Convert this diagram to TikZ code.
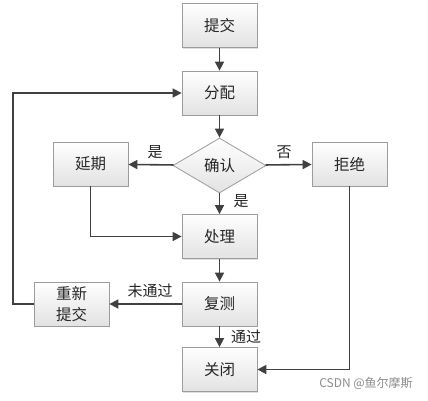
\documentclass[tikz,border=0pt]{standalone}
\usepackage{fontspec}
\newfontfamily\cjk{Noto Sans CJK SC}
\usetikzlibrary{arrows.meta,shapes.geometric,shadows}
\definecolor{boxline}{HTML}{9C9C9C}
\definecolor{boxbot}{HTML}{E2E2E2}
\definecolor{arr}{HTML}{404040}
\begin{document}
\begin{tikzpicture}[x=1pt,y=-1pt,
  box/.style={draw=boxline,line width=0.8pt,top color=white,bottom color=boxbot,
    minimum width=75pt,minimum height=44pt,inner sep=0pt,align=center,
    font=\cjk\fontsize{15.5}{21}\selectfont,text=black!85,
    drop shadow={shadow xshift=1pt,shadow yshift=-1pt,opacity=0.25}},
  dia/.style={diamond,draw=boxline,line width=0.8pt,top color=white,bottom color=boxbot,
    minimum width=93pt,minimum height=55pt,inner sep=0pt,aspect=1.7,
    font=\cjk\fontsize{15.5}{17}\selectfont,text=black!85},
  conn/.style={draw=arr,line width=1.6pt,-{Triangle[length=9pt,width=9pt]}},
  lab/.style={font=\cjk\fontsize{15}{17}\selectfont,text=black!85,inner sep=0pt}]
\useasboundingbox (0,0) rectangle (428,400);
\fill[white] (0,0) rectangle (428,400);
\node[box] (tj) at (219.5,25.5) {提交};
\node[box] (fp) at (219.5,93) {分配};
\node[dia] (qr) at (219.5,165.5) {确认};
\node[box] (yq) at (90.5,164) {延期};
\node[box] (jj) at (349.5,164) {拒绝};
\node[box] (cl) at (219.5,236.5) {处理};
\node[box] (fc) at (219.5,304) {复测};
\node[box] (cx) at (71.5,304) {重新\\提交};
\node[box] (gb) at (219.5,369.5) {关闭};
\coordinate (lt) at (13,93);
\coordinate (lb) at (13,304);
\path[conn] (tj) -- (fp);
\path[conn] (fp) -- (qr);
\path[conn] (qr) -- (yq);
\path[conn] (qr) -- (jj);
\path[conn] (qr) -- (cl);
\path[conn] (cl) -- (fc);
\path[conn] (fc) -- (cx);
\path[conn] (fc) -- (gb);
\path[conn] (yq.south) |- (cl.west);
\path[conn] (jj.south) |- (gb.east);
\path[conn] (cx.west) -- (lb) -- (lt) -- (fp.west);
\node[lab] (l1) at (155,152) {是};
\node[lab] (l2) at (284,152) {否};
\node[lab] (l3) at (241,201) {是};
\node[lab] (l4) at (150,291) {未通过};
\node[lab] (l5) at (246,337) {通过};
\node[font=\cjk\fontsize{12}{14}\selectfont,text=black!45,inner sep=0pt] (wm) at (366,383) {CSDN @鱼尔摩斯};
\end{tikzpicture}
\end{document}
